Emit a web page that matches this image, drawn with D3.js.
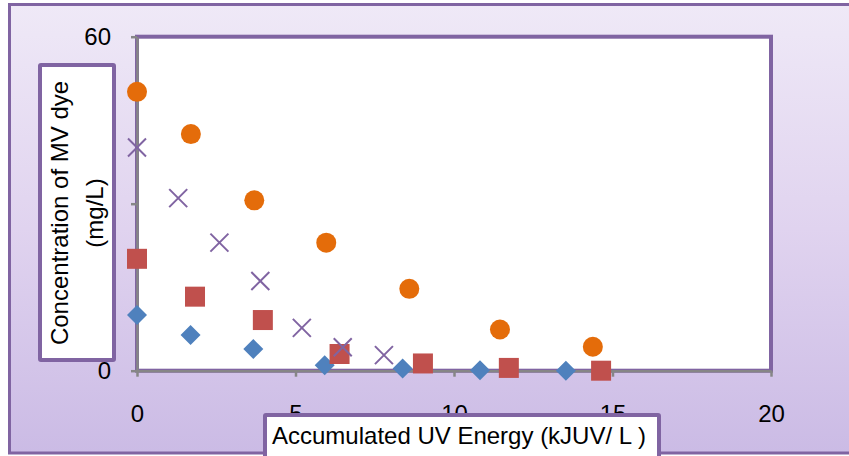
<!DOCTYPE html>
<html lang="en">
<head>
    <meta charset="UTF-8">
    <title>MV dye concentration vs accumulated UV energy</title>
    <script src="https://d3js.org/d3.v7.min.js"></script>
    <style>
        body {
            margin: 0;
            padding: 0;
            background: #fff;
            overflow: hidden;
        }

        svg {
            display: block;
            font-family: "Liberation Sans", Arial, sans-serif;
        }

        .axis text {
            font-size: 24px;
            fill: #000;
        }

        .axis path,
        .axis line {
            stroke: #868686;
            stroke-width: 2.5px;
        }

        .title {
            font-size: 24px;
            fill: #000;
        }
    </style>
</head>
<body>
    <svg id="chart" width="849" height="456"></svg>
    <script>
        // Values (x = kJUV/L, y = mg/L)
        var diamondX = [0, 1.69, 3.67, 5.92, 8.38, 10.82, 13.53];
        var diamondY = [10.0, 6.4, 3.9, 1.0, 0.4, 0.1, 0.0];

        var squareX = [0, 1.83, 3.97, 6.39, 9.02, 11.73, 14.64];
        var squareY = [20.1, 13.3, 9.1, 3.0, 1.3, 0.5, 0.0];

        var crossX = [0, 1.3, 2.6, 3.89, 5.2, 6.49, 7.79];
        var crossY = [40.1, 31.0, 23.0, 16.1, 7.7, 4.2, 2.8];

        var circleX = [0, 1.70, 3.70, 5.97, 8.59, 11.45, 14.38];
        var circleY = [50.1, 42.5, 30.6, 23.0, 14.7, 7.4, 4.3];

        var xTicks = [0, 5, 10, 15, 20];
        var yTicks = [0, 30, 60];

        var xTitle = 'Accumulated UV Energy (kJUV/ L )';
        var yTitle = ['Concentration of MV dye', '(mg/L)'];

        var purple = '#8064a2';

        var svg = d3.select('#chart');

        var x = d3.scaleLinear().domain([0, 20]).range([137, 771]);
        var y = d3.scaleLinear().domain([0, 60]).range([370.7, 36.7]);

        // background gradient
        var grad = svg.append('defs').append('linearGradient')
            .attr('id', 'bg')
            .attr('x1', 0).attr('y1', 0).attr('x2', 0).attr('y2', 1);
        grad.append('stop').attr('offset', '0%').attr('stop-color', '#efe9f7');
        grad.append('stop').attr('offset', '50%').attr('stop-color', '#e0d3ef');
        grad.append('stop').attr('offset', '100%').attr('stop-color', '#cbbbe5');

        // outer chart frame
        svg.append('rect')
            .attr('x', 9.5).attr('y', 4.5)
            .attr('width', 860).attr('height', 448.5)
            .attr('fill', 'url(#bg)')
            .attr('stroke', purple)
            .attr('stroke-width', 3);

        // plot area
        svg.append('rect')
            .attr('x', x(0)).attr('y', y(60))
            .attr('width', x(20) - x(0)).attr('height', y(0) - y(60))
            .attr('fill', '#fff')
            .attr('stroke', purple)
            .attr('stroke-width', 4);

        // axes
        svg.append('g')
            .attr('class', 'axis')
            .attr('transform', 'translate(' + x(0) + ',0)')
            .call(d3.axisLeft(y).tickValues(yTicks).tickSizeInner(6).tickSizeOuter(0).tickPadding(20))
            .call(function(g) { g.selectAll('text').attr('font-family', null); })
            .attr('font-family', null).attr('font-size', null);

        svg.append('g')
            .attr('class', 'axis')
            .attr('transform', 'translate(0,' + y(0) + ')')
            .call(d3.axisBottom(x).tickValues(xTicks).tickSizeInner(6).tickSizeOuter(0).tickPadding(28))
            .attr('font-family', null).attr('font-size', null);

        var marks = svg.append('g');

        // diamonds
        marks.selectAll('.diamond')
            .data(d3.zip(diamondX, diamondY))
            .enter().append('path')
            .attr('class', 'diamond')
            .attr('d', 'M0,-10L10,0L0,10L-10,0Z')
            .attr('transform', function(d) { return 'translate(' + x(d[0]) + ',' + y(d[1]) + ')'; })
            .attr('fill', '#4f81bd');

        // squares
        marks.selectAll('.square')
            .data(d3.zip(squareX, squareY))
            .enter().append('rect')
            .attr('class', 'square')
            .attr('x', function(d) { return x(d[0]) - 10; })
            .attr('y', function(d) { return y(d[1]) - 10; })
            .attr('width', 20).attr('height', 20)
            .attr('fill', '#c0504d');

        // crosses
        marks.selectAll('.cross')
            .data(d3.zip(crossX, crossY))
            .enter().append('path')
            .attr('class', 'cross')
            .attr('d', 'M-9,-9L9,9M-9,9L9,-9')
            .attr('transform', function(d) { return 'translate(' + x(d[0]) + ',' + y(d[1]) + ')'; })
            .attr('stroke', purple)
            .attr('stroke-width', 2)
            .attr('fill', 'none');

        // circles
        marks.selectAll('.circle')
            .data(d3.zip(circleX, circleY))
            .enter().append('circle')
            .attr('class', 'circle')
            .attr('cx', function(d) { return x(d[0]); })
            .attr('cy', function(d) { return y(d[1]); })
            .attr('r', 10)
            .attr('fill', '#e46c0a');

        // y axis title box
        svg.append('rect')
            .attr('x', 40).attr('y', 65)
            .attr('width', 74).attr('height', 295)
            .attr('fill', '#fff')
            .attr('stroke', purple)
            .attr('stroke-width', 4)
            .attr('rx', 1);

        var yt = svg.append('text')
            .attr('class', 'title')
            .attr('text-anchor', 'middle')
            .attr('transform', 'translate(0,213) rotate(-90)');
        yt.selectAll('tspan')
            .data(yTitle)
            .enter().append('tspan')
            .attr('x', 0)
            .attr('y', function(d, i) { return i === 0 ? 68 : 103; })
            .text(function(d) { return d; });

        // x axis title box
        svg.append('rect')
            .attr('x', 265).attr('y', 415)
            .attr('width', 394).attr('height', 50)
            .attr('fill', '#fff')
            .attr('stroke', purple)
            .attr('stroke-width', 4)
            .attr('rx', 1);

        svg.append('text')
            .attr('class', 'title')
            .attr('x', 272)
            .attr('y', 444)
            .text(xTitle);
    </script>
</body>
</html>
